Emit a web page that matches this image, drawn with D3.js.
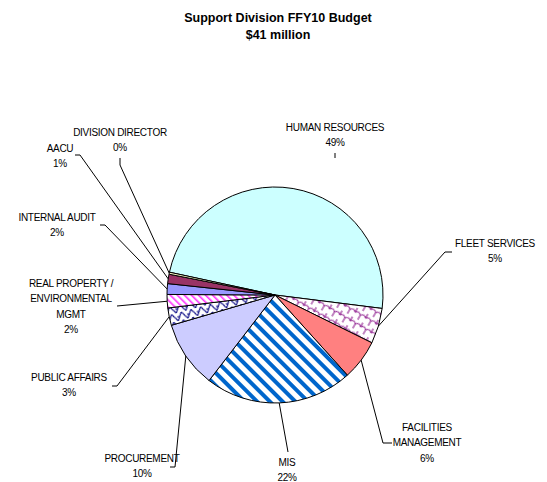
<!DOCTYPE html>
<html><head><meta charset="utf-8">
<script src="https://cdn.jsdelivr.net/npm/d3@7"></script>
<style>body{margin:0;background:#fff}svg{display:block}text{font-family:"Liberation Sans",Arial,sans-serif}</style>
</head><body>
<svg id="c" width="547" height="482"></svg>
<script>
const categories = ["HUMAN RESOURCES","FLEET SERVICES","FACILITIES MANAGEMENT","MIS","PROCUREMENT","PUBLIC AFFAIRS","REAL PROPERTY / ENVIRONMENTAL MGMT","INTERNAL AUDIT","AACU","DIVISION DIRECTOR"];
const values = [48.5,5.3,6.0,22.1,10.0,2.6,2.0,1.6,1.4,0.3];
const percentLabels = ["49%","5%","6%","22%","10%","3%","2%","2%","1%","0%"];
const labelLines = [["HUMAN RESOURCES"],["FLEET SERVICES"],["FACILITIES","MANAGEMENT"],["MIS"],["PROCUREMENT"],["PUBLIC AFFAIRS"],["REAL PROPERTY /","ENVIRONMENTAL","MGMT"],["INTERNAL AUDIT"],["AACU"],["DIVISION DIRECTOR"]];
const titleLines = ["Support Division FFY10 Budget","$41 million"];

// layout (label boxes and leader elbows)
const layout = [
  {x:335,y:127,lead:[[335,153],[335,158]],toPie:false},
  {x:495,y:243,lead:[[452,252],[445,252]],toPie:true},
  {x:427,y:427,lead:[[392,443],[383,443]],toPie:true},
  {x:287,y:462,lead:[[288,452]],toPie:true},
  {x:142,y:458,lead:[[170,467],[175,467]],toPie:true},
  {x:69,y:377,lead:[[112,386],[117,386]],toPie:true},
  {x:71,y:283,lead:[[117,306]],toPie:true},
  {x:57,y:217,lead:[[100,225],[105,225]],toPie:true},
  {x:60,y:148,lead:[[75,155],[80,155]],toPie:true},
  {x:120,y:132,lead:[[120,158],[120,165]],toPie:true}
];
const fills = ["#CCFFFF","url(#pFleet)","#FF8080","url(#pMis)","#CCCCFF","url(#pPub)","url(#pReal)","#9999FF","#993366","#FFFFCC"];

const svg = d3.select("#c");
const defs = svg.append("defs");
// MIS wide stripes
let p = defs.append("pattern").attr("id","pMis").attr("patternUnits","userSpaceOnUse").attr("width",9).attr("height",9).attr("patternTransform","rotate(-45)");
p.append("rect").attr("width",9).attr("height",9).attr("fill","#fff");
p.append("rect").attr("width",4).attr("height",9).attr("fill","#0066CC");
// Real property thin magenta stripes
p = defs.append("pattern").attr("id","pReal").attr("patternUnits","userSpaceOnUse").attr("width",5).attr("height",5).attr("patternTransform","rotate(-45)");
p.append("rect").attr("width",5).attr("height",5).attr("fill","#fff");
p.append("rect").attr("width",1.6).attr("height",5).attr("fill","#FF33FF");
// Fleet scallop
p = defs.append("pattern").attr("id","pFleet").attr("patternUnits","userSpaceOnUse").attr("width",12).attr("height",10).attr("patternTransform","rotate(30)");
p.append("rect").attr("width",12).attr("height",10).attr("fill","#fff");
p.append("path").attr("d","M0,5 Q3,1 6,5 M6,5 V0 M0,5 V10 M12,5 V10 M6,5 Q9,1 12,5").attr("fill","none").attr("stroke","#993399").attr("stroke-width",1.2);
// Public affairs trellis
p = defs.append("pattern").attr("id","pPub").attr("patternUnits","userSpaceOnUse").attr("width",10).attr("height",8).attr("patternTransform","rotate(-15)");
p.append("rect").attr("width",10).attr("height",8).attr("fill","#fff");
p.append("path").attr("d","M0,8 L5,0 L10,8 M0,4 H3").attr("fill","none").attr("stroke","#000080").attr("stroke-width",1.1);

// title
svg.append("g").selectAll("text").data(titleLines).join("text")
  .attr("x",278).attr("y",(d,i)=>22+i*17).attr("text-anchor","middle")
  .attr("font-weight","bold").attr("font-size",12.5).text(d=>d);

const cx=275, cy=295, r=108;
const a0 = -77.8*Math.PI/180;
const pie = d3.pie().sort(null).value(d=>d).startAngle(a0).endAngle(a0+2*Math.PI);
const arcs = pie(values);
const arc = d3.arc().innerRadius(0).outerRadius(r);
const edge = d3.arc().innerRadius(r).outerRadius(r);
const g = svg.append("g").attr("transform",`translate(${cx},${cy})`);
g.selectAll("path").data(arcs).join("path").attr("d",arc)
  .attr("fill",(d,i)=>fills[i]).attr("stroke","#000").attr("stroke-width",1).attr("stroke-linejoin","round");

// leader lines
const lg = svg.append("g");
arcs.forEach((d,i)=>{
  const L = layout[i];
  const pts = L.lead.slice();
  if(L.toPie){ const c = edge.centroid(d); pts.push([c[0]+cx,c[1]+cy]); }
  lg.append("path").attr("d",d3.line()(pts)).attr("fill","none").attr("stroke","#000").attr("stroke-width",1);
});

// labels
const tg = svg.append("g");
arcs.forEach((d,i)=>{
  const L = layout[i];
  const lines = labelLines[i].concat([percentLabels[i]]);
  tg.append("g").selectAll("text").data(lines).join("text")
    .attr("x",L.x).attr("y",(t,j)=>L.y+3.5+j*15.5).attr("text-anchor","middle")
    .attr("font-size",10).attr("letter-spacing",-0.3).attr("fill","#000").text(t=>t);
});
</script>
</body></html>
